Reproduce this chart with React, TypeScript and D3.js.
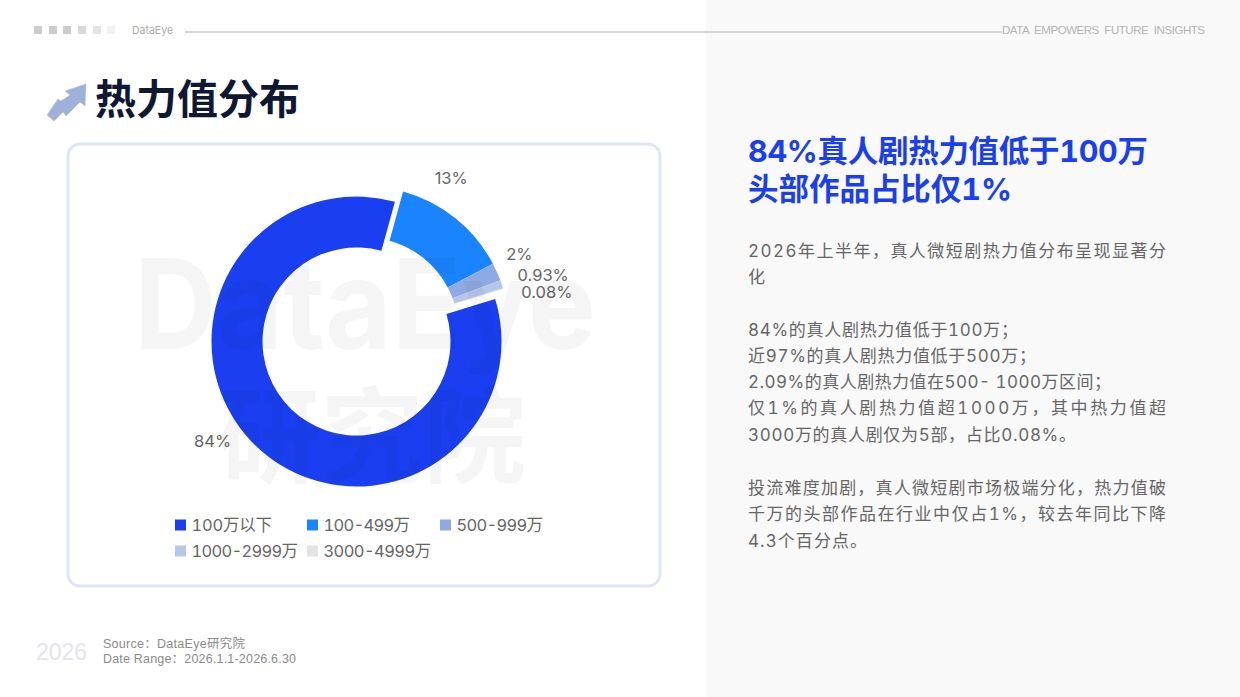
import React from "react";
import * as d3 from "d3";

const categories = ["100万以下", "100-499万", "500-999万", "1000-2999万", "3000-4999万"];
const shares = [84, 13, 2, 0.93, 0.08];
const shareLabels = ["84%", "13%", "2%", "0.93%", "0.08%"];
const colors = ["#1a3ff0", "#1a84ff", "#8fa9e3", "#b5c6ea", "#e3e3e3"];
const explodedGroup = [false, true, true, true, true];
const labelNudge: [number, number][] = [[-24, -24], [-13, -29], [6, -17], [24, -11], [26, 1]];
const legendX = [175, 307, 440, 175, 307];
const legendY = [525, 525, 525, 551, 551];
const legendEnd = [272, 410, 543, 298, 431];
const squareTones = ["#cccccc", "#cccccc", "#cccccc", "#d8d8d8", "#e3e3e3", "#f1f1f1"];
const squareX = [34, 49, 63, 78, 93, 107];

type Line = [string, number, number];
const bodyLines: Line[] = [
  ["2026年上半年，真人微短剧热力值分布呈现显著分", 257, 1166],
  ["化", 283, 766],
  ["84%的真人剧热力值低于100万；", 336, 1018],
  ["近97%的真人剧热力值低于500万；", 362, 1036],
  ["2.09%的真人剧热力值在500- 1000万区间；", 388, 1111],
  ["仅1%的真人剧热力值超1000万，其中热力值超", 414, 1166],
  ["3000万的真人剧仅为5部，占比0.08%。", 441, 1076],
  ["投流难度加剧，真人微短剧市场极端分化，热力值破", 494, 1166],
  ["千万的头部作品在行业中仅占1%，较去年同比下降", 520, 1166],
  ["4.3个百分点。", 547, 867],
];
const headLines: Line[] = [
  ["84%真人剧热力值低于100万", 162, 1148],
  ["头部作品占比仅1%", 200, 1012],
];

const CJK = "Inter, 'Noto Sans CJK SC', sans-serif";
const tabular: React.CSSProperties = { fontVariantNumeric: "tabular-nums" };
const cx = 356.5;
const cy = 341.5;
const outerR = 145;
const innerR = 94;
const explodeBy = 13;
const deg = Math.PI / 180;

export default function App() {
  const pie = d3
    .pie<number>()
    .sort(null)
    .startAngle(73 * deg)
    .endAngle(433 * deg);
  const arcs = pie(shares);
  const arc = d3.arc<d3.PieArcDatum<number>>().innerRadius(innerR).outerRadius(outerR);
  const labelArc = d3.arc<d3.PieArcDatum<number>>().innerRadius(172).outerRadius(172);
  const groupMid = (arcs[1].startAngle + arcs[1].endAngle) / 2;
  const ox = Math.sin(groupMid) * explodeBy;
  const oy = -Math.cos(groupMid) * explodeBy;

  return (
    <svg
      width={1240}
      height={697}
      viewBox="0 0 1240 697"
      style={{ position: "absolute", left: 0, top: 0, display: "block" }}
    >
      <rect width={1240} height={697} fill="#ffffff" />
      <rect x={706} width={534} height={697} fill="#f9f9fa" />

      {squareX.map((x, i) => (
        <rect key={i} x={x} y={26} width={8} height={8} fill={squareTones[i]} />
      ))}
      <text x={132} y={34} fontSize={11} fill="#aaaaaa" fontFamily="Inter, sans-serif" textLength={41} lengthAdjust="spacingAndGlyphs">DataEye</text>
      <rect x={185} y={31} width={817} height={2} fill="#d6d6d6" />
      <text x={1002} y={33.5} fontSize={11.5} fill="#b3b3b3" fontFamily="'Liberation Sans', sans-serif" style={{ whiteSpace: "pre" }} textLength={203} lengthAdjust="spacing">DATA  EMPOWERS  FUTURE  INSIGHTS</text>

      <polygon
        points="86,84 65,91 70,95 61,101 58,99 47,115 54,121 63,112 66,116 80,102 85,106"
        fill="#9fb0da"
        stroke="#aab8dc"
        strokeWidth={0.5}
      />
      <text x={95} y={114} fontSize={41} fontWeight={700} fill="#0f1733" fontFamily={CJK}>热力值分布</text>

      <rect x={68} y={144} width={592} height={442} rx={12} fill="#ffffff" stroke="#dfe5f6" strokeWidth={3} />

      <g transform={`translate(${cx},${cy})`}>
        {arcs.map((d, i) => (
          <path
            key={i}
            d={arc(d) ?? ""}
            fill={colors[i]}
            transform={explodedGroup[i] ? `translate(${ox},${oy})` : undefined}
          />
        ))}
        {arcs.map((d, i) => {
          const [lx, ly] = labelArc.centroid(d);
          return (
            <text
              key={i}
              x={lx + labelNudge[i][0]}
              y={ly + labelNudge[i][1]}
              textAnchor="middle"
              dominantBaseline="central"
              fontSize={16.5}
              fill="#666666"
              fontFamily="Inter, sans-serif"
            >
              {shareLabels[i]}
            </text>
          );
        })}
      </g>

      {categories.map((c, i) => (
        <g key={c}>
          <rect x={legendX[i]} y={legendY[i] - 5.5} width={11} height={11} fill={colors[i]} />
          <text
            x={legendX[i] + 16.5}
            y={legendY[i] + 5.5}
            fontSize={16.5}
            fill="#666666"
            fontFamily={CJK}
            style={tabular}
            textLength={legendEnd[i] - legendX[i] - 16.5}
            lengthAdjust="spacing"
          >
            {c}
          </text>
        </g>
      ))}

      <text x={36} y={660} fontSize={23} fill="#e3e5ea" fontFamily="'Liberation Sans', sans-serif" textLength={51} lengthAdjust="spacing">2026</text>
      <text x={103} y={648} fontSize={12.5} fill="#8a8a8a" fontFamily="'Liberation Sans', 'Noto Sans CJK SC', sans-serif" textLength={142} lengthAdjust="spacing">Source：DataEye研究院</text>
      <text x={103} y={663} fontSize={12.5} fill="#8a8a8a" fontFamily="'Liberation Sans', 'Noto Sans CJK SC', sans-serif" textLength={193} lengthAdjust="spacing">Date Range：2026.1.1-2026.6.30</text>

      {headLines.map(([t, y, end]) => (
        <text key={t} x={748} y={y} fontSize={30.5} fontWeight={700} fill="#1a3ff0" fontFamily={CJK} style={tabular} textLength={end - 748} lengthAdjust="spacing">{t}</text>
      ))}
      {bodyLines.map(([t, y, end]) => (
        <text key={t} x={748} y={y} fontSize={17} fill="#666666" fontFamily={CJK} style={tabular} textLength={end - 748} lengthAdjust="spacing">{t}</text>
      ))}

      <g fill="#000000" fillOpacity={0.04} fontWeight={700} fontFamily={CJK}>
        <text x={134} y={349} fontSize={125} textLength={462} lengthAdjust="spacingAndGlyphs">DataEye</text>
        <text x={218} y={475} fontSize={104} textLength={308} lengthAdjust="spacingAndGlyphs">研究院</text>
      </g>
    </svg>
  );
}
